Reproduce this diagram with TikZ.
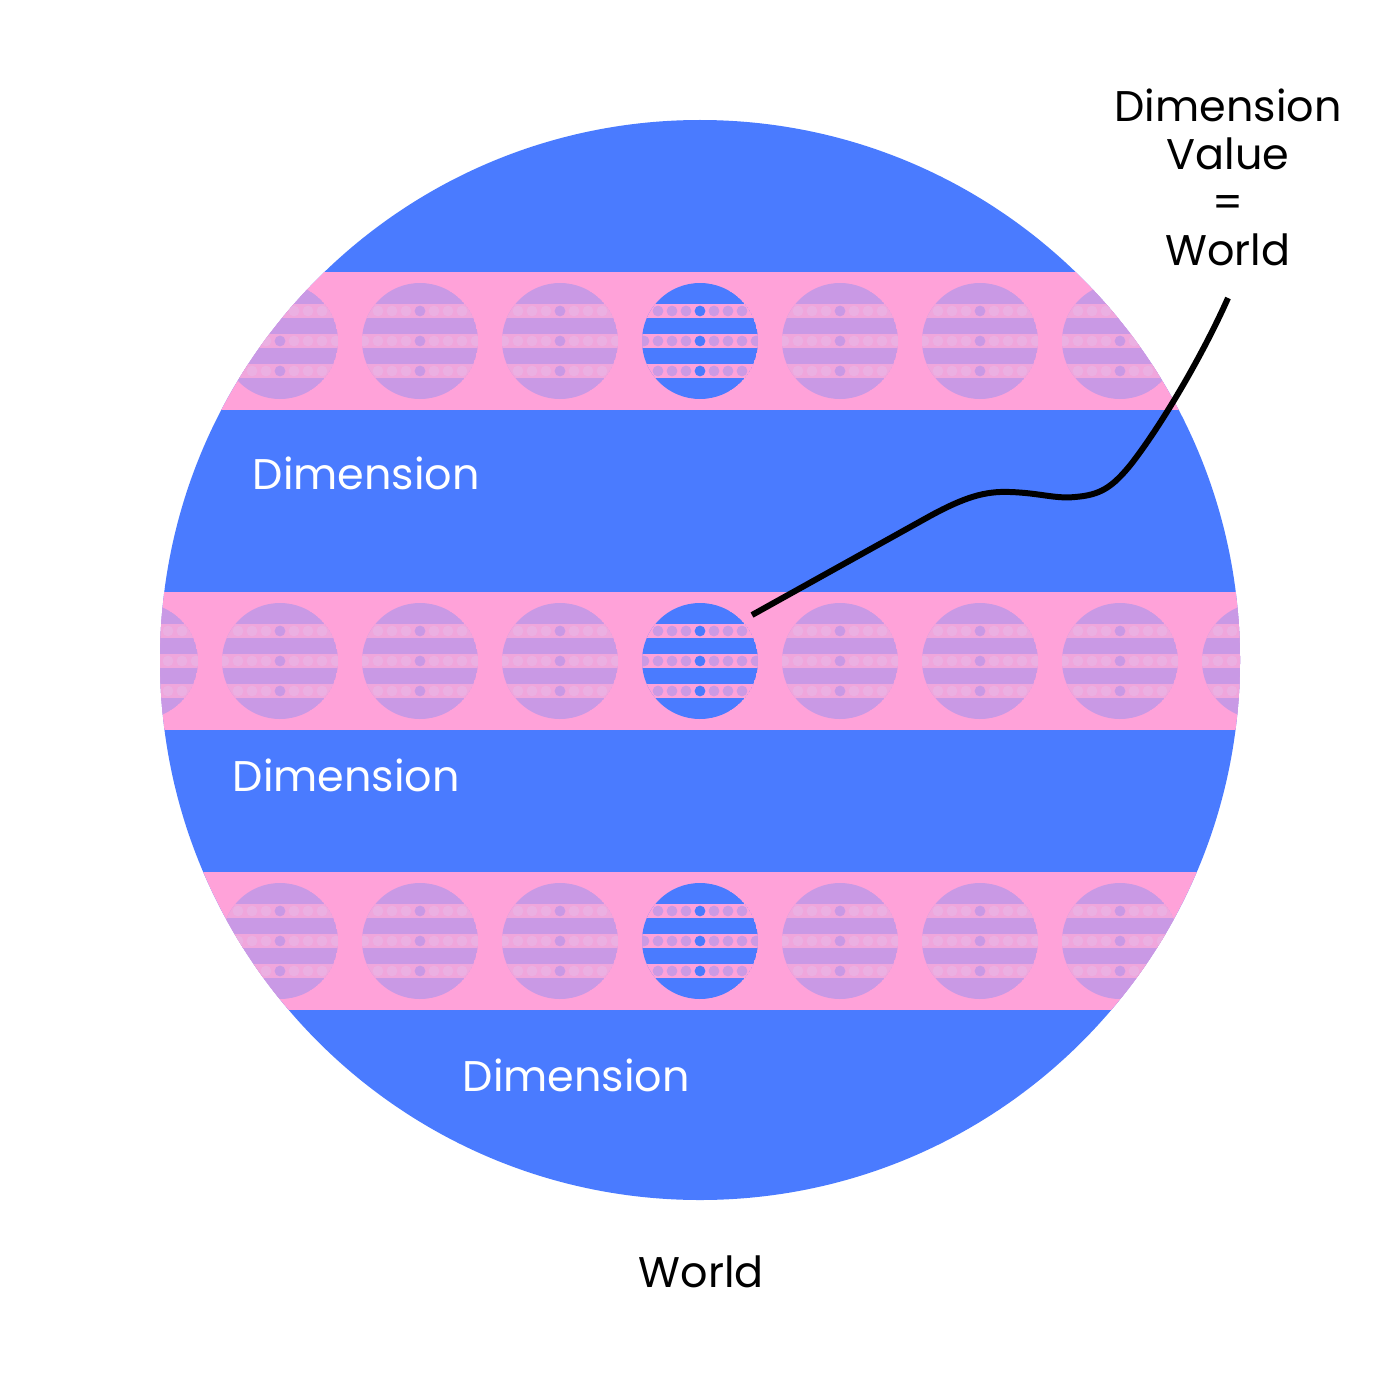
\documentclass[tikz,border=0pt]{standalone}
\usepackage{fontspec}
\setmainfont{Poppins}
\definecolor{cblue}{HTML}{4A7BFF}
\definecolor{cpink}{HTML}{FFA2D9}
\definecolor{clav}{HTML}{C999E5}
\definecolor{cstripe}{HTML}{F0A6DC}
\definecolor{cdot}{HTML}{EBB0E2}
\definecolor{cbdot}{HTML}{CC9AE4}
\tikzset{
  lbl/.style={font=\fontsize{12.2pt}{13.7pt}\selectfont, inner sep=0pt, anchor=base west},
  blbl/.style={font=\fontsize{12.2pt}{13.7pt}\selectfont, inner sep=0pt, align=center},
  conn/.style={line width=1.7pt, black, line cap=butt}
}
\newcommand{\minicirc}[6]{% x, y, fill, stripe, dot, centerdot
  \begin{scope}
    \clip (#1,#2) circle (58);
    \fill[#3] (#1,#2) circle (58);
    \foreach \dy in {-30,0,30}{
      \fill[#4] (#1-60,#2+\dy-6.8) rectangle (#1+60,#2+\dy+6.8);
      \foreach \dx in {-56,-42,-28,-14,14,28,42,56}{
        \fill[#5] (#1+\dx,#2+\dy) circle (5.4);
      }
      \fill[#6] (#1,#2+\dy) circle (5.4);
    }
  \end{scope}
}
\begin{document}
\begin{tikzpicture}[x=0.01cm,y=-0.01cm]
\useasboundingbox (0,0) rectangle (1400,1400);
\fill[cblue] (700,660) circle (540);
\begin{scope}
  \clip (700,660) circle (540);
  \foreach \yc in {341,661,941}{
    \fill[cpink] (100,\yc-69) rectangle (1300,\yc+69);
    \foreach \k in {-4,...,-1,1,2,3,4}{
      \minicirc{700+140*\k}{\yc}{clav}{cstripe}{cdot}{clav}
    }
    \minicirc{700}{\yc}{cblue}{cpink}{cbdot}{cblue}
  }
\end{scope}
\node[lbl, text=white] (d1) at (252,489) {Dimension};
\node[lbl, text=white] (d2) at (232,791) {Dimension};
\node[lbl, text=white] (d3) at (462,1091) {Dimension};
\node[lbl] (w) at (638,1287) {World};
\node[blbl, anchor=north] (dv) at (1228,88) {Dimension\\Value\\=\\World};
\coordinate (s) at (752,615);
\coordinate (e) at (1228,298);
\draw[conn] (s) -- (930,516) .. controls (965,497) and (985,491) .. (1010,492)
  .. controls (1040,493) and (1055,499) .. (1075,497)
  .. controls (1100,495) and (1112,488) .. (1132,463)
  .. controls (1165,420) and (1205,350) .. (e);
\end{tikzpicture}
\end{document}
